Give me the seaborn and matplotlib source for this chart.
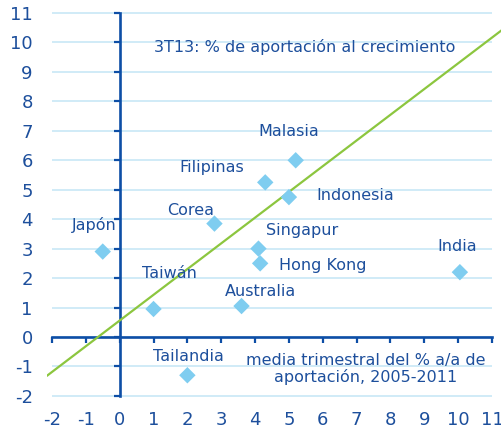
import matplotlib
matplotlib.use('Agg')
import matplotlib.pyplot as plt
import pandas as pd
import seaborn as sns

# data
countries = ["Japón", "Taiwán", "Tailandia", "Corea", "Australia", "Singapur",
             "Hong Kong", "Filipinas", "Indonesia", "Malasia", "India"]
avg_contrib = [-0.5, 1.0, 2.0, 2.8, 3.6, 4.1, 4.15, 4.3, 5.0, 5.2, 10.05]
contrib_3t13 = [2.9, 0.95, -1.3, 3.85, 1.05, 3.0, 2.5, 5.25, 4.75, 6.0, 2.2]
trend_x = [-2.15, 11.3]
trend_y = [-1.32, 10.43]
ticks = list(range(-2, 12))

title_txt = "3T13: % de aportación al crecimiento"
xlab_txt = "media trimestral del % a/a de\naportación, 2005-2011"

# label placement (data units, label centre)
label_pos = {
    "Japón": (-0.76, 3.8), "Taiwán": (1.46, 2.14), "Tailandia": (2.03, -0.65),
    "Corea": (2.11, 4.31), "Australia": (4.15, 1.53), "Singapur": (5.39, 3.6),
    "Hong Kong": (6.0, 2.44), "Filipinas": (2.73, 5.74), "Indonesia": (6.95, 4.79),
    "Malasia": (4.99, 6.99), "India": (9.98, 3.06),
}

DARK = "#1d4f9c"
AXIS = "#0d4ea6"
GRID = "#c8e8f6"
MARK = "#7fcdf0"
GREEN = "#8cc63f"

df = pd.DataFrame({"pais": countries, "x": avg_contrib, "y": contrib_3t13})
trend = pd.DataFrame({"x": trend_x, "y": trend_y})

sns.set_style("white")
plt.rcParams['font.family'] = ['DejaVu Sans']

fig = plt.figure(figsize=(5.02, 4.34), dpi=100)
ax = fig.add_axes([0.0934, 0.0675, 0.907, 0.9194])
ax.set_xlim(-2.15, 11.3)
ax.set_ylim(-2.3, 11.25)

ax.hlines(ticks, -2, 11, color=GRID, lw=1.2, zorder=0)

sns.lineplot(data=trend, x="x", y="y", color=GREEN, lw=1.6, ax=ax, zorder=3)
sns.scatterplot(data=df, x="x", y="y", marker="D", s=70, color=MARK,
                edgecolor="none", ax=ax, zorder=4)

fs = 11.5
for name, (lx, ly) in label_pos.items():
    ax.text(lx, ly, name, color=DARK, fontsize=fs, ha="center", va="center")
ax.text(5.47, 9.85, title_txt, color=DARK, fontsize=fs, ha="center", va="center")
ax.text(7.28, -1.09, xlab_txt, color=DARK, fontsize=fs, ha="center",
        va="center", linespacing=1.05)

for s in ["top", "right"]:
    ax.spines[s].set_visible(False)
for s in ["left", "bottom"]:
    ax.spines[s].set_position(("data", 0))
    ax.spines[s].set_bounds(-2, 11)
    ax.spines[s].set_color(AXIS)
    ax.spines[s].set_linewidth(1.9)

ax.set_xticks(ticks)
ax.set_yticks(ticks)
ax.set_xticklabels([str(t) for t in ticks])
ax.set_yticklabels([str(t) for t in ticks])
ax.tick_params(axis="x", bottom=True, direction="out", length=4.5, width=1.6,
               color=AXIS, labelcolor=DARK, labelsize=13, pad=49)
ax.tick_params(axis="y", left=True, direction="out", length=4, width=1.6,
               color=AXIS, labelcolor=DARK, labelsize=13, pad=58.5)
ax.set_xlabel("")
ax.set_ylabel("")

fig.savefig("out.png", dpi=100)
